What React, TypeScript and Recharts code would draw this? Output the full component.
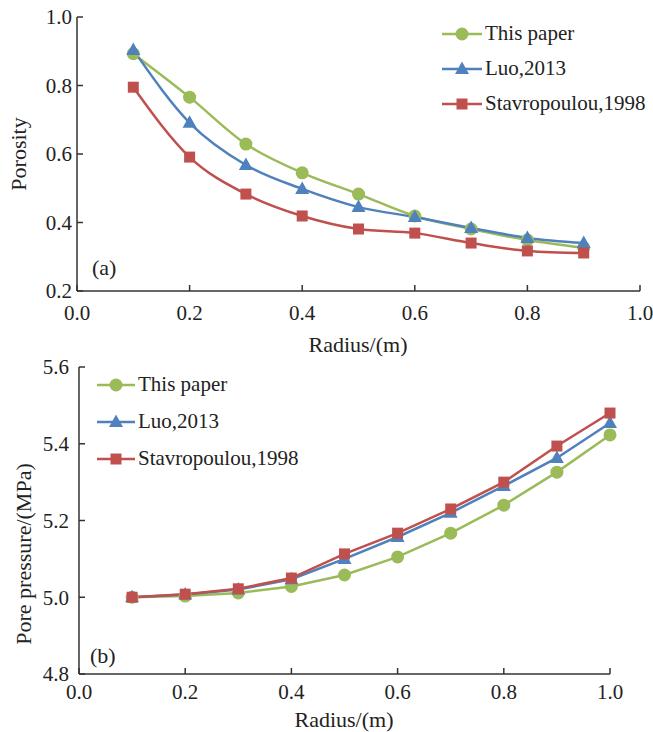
import { LineChart, Line, XAxis, YAxis } from "recharts";

// (a) porosity vs radius
const radiusA = [0.1, 0.2, 0.3, 0.4, 0.5, 0.6, 0.7, 0.8, 0.9];
const porosityThisPaper = [0.893, 0.766, 0.629, 0.545, 0.483, 0.419, 0.381, 0.349, 0.326];
const porosityLuo = [0.904, 0.691, 0.568, 0.498, 0.445, 0.416, 0.384, 0.355, 0.34];
const porosityStav = [0.795, 0.591, 0.483, 0.419, 0.381, 0.369, 0.34, 0.317, 0.311];

// (b) pore pressure vs radius
const radiusB = [0.1, 0.2, 0.3, 0.4, 0.5, 0.6, 0.7, 0.8, 0.9, 1.0];
const pressureThisPaper = [5.0, 5.003, 5.011, 5.028, 5.058, 5.105, 5.167, 5.24, 5.326, 5.423];
const pressureLuo = [5.0, 5.007, 5.02, 5.047, 5.1, 5.157, 5.22, 5.29, 5.363, 5.454];
const pressureStav = [5.0, 5.008, 5.022, 5.05, 5.113, 5.167, 5.23, 5.3, 5.394, 5.48];

const xTicks = [0, 0.2, 0.4, 0.6, 0.8, 1.0];
const porosityTicks = [0.2, 0.4, 0.6, 0.8, 1.0];
const pressureTicks = [4.8, 5.0, 5.2, 5.4, 5.6];

const seriesNames = ["This paper", "Luo,2013", "Stavropoulou,1998"];

const GREEN = "#9bbb59";
const BLUE = "#4f81bd";
const RED = "#c0504d";
const AXIS = "#333";
const INK = "#222";
const FONT = "Liberation Serif, Times New Roman, serif";

const dataA = radiusA.map((r, i) => ({
  r,
  a: porosityThisPaper[i],
  b: porosityLuo[i],
  c: porosityStav[i],
}));

const dataB = radiusB.map((r, i) => ({
  r,
  a: pressureThisPaper[i],
  b: pressureLuo[i],
  c: pressureStav[i],
}));

type Shape = "circle" | "triangle" | "square";

function Marker({ shape, cx, cy, color }: { shape: Shape; cx: number; cy: number; color: string }) {
  if (shape === "circle") return <circle cx={cx} cy={cy} r={6.5} fill={color} />;
  if (shape === "triangle")
    return <polygon points={`${cx},${cy - 7.5} ${cx + 7},${cy + 5} ${cx - 7},${cy + 5}`} fill={color} />;
  return <rect x={cx - 5.5} y={cy - 5.5} width={11} height={11} fill={color} />;
}

const dot = (shape: Shape, color: string) => (p: any) =>
  <Marker key={`${shape}-${p.index}`} shape={shape} cx={p.cx} cy={p.cy} color={color} />;

const legendItems: { shape: Shape; color: string }[] = [
  { shape: "circle", color: GREEN },
  { shape: "triangle", color: BLUE },
  { shape: "square", color: RED },
];

function LegendBox({ left, top, gap, lineW }: { left: number; top: number; gap: number; lineW: number }) {
  return (
    <div style={{ position: "absolute", left, top, fontFamily: FONT, fontSize: 21, color: INK }}>
      {legendItems.map((it, i) => (
        <div key={i} style={{ display: "flex", alignItems: "center", height: gap }}>
          <svg width={lineW} height={20} style={{ marginRight: 3 }}>
            <line x1={0} y1={10} x2={lineW} y2={10} stroke={it.color} strokeWidth={2.5} />
            <Marker shape={it.shape} cx={lineW / 2} cy={10} color={it.color} />
          </svg>
          <span>{seriesNames[i]}</span>
        </div>
      ))}
    </div>
  );
}

const XTick = (p: any) => (
  <text x={p.x} y={p.y} dy="0.71em" textAnchor="middle" fontFamily={FONT} fontSize={21} fill={INK}>
    {Number(p.payload.value).toFixed(1)}
  </text>
);

const YTick = (p: any) => (
  <text x={p.x} y={p.y} dy="0.35em" textAnchor="end" fontFamily={FONT} fontSize={21} fill={INK}>
    {Number(p.payload.value).toFixed(1)}
  </text>
);

function YTitle({ text, x, y }: { text: string; x: number; y: number }) {
  return (
    <text
      x={x}
      y={y}
      transform={`rotate(-90, ${x}, ${y})`}
      textAnchor="middle"
      dominantBaseline="central"
      fontFamily={FONT}
      fontSize={22}
      fill={INK}
    >
      {text}
    </text>
  );
}

function XTitle({ x, y }: { x: number; y: number }) {
  return (
    <text x={x} y={y} textAnchor="middle" fontFamily={FONT} fontSize={22} fill={INK}>
      Radius/(m)
    </text>
  );
}

export default function App() {
  return (
    <div style={{ position: "absolute", left: 0, top: 0, width: 653, height: 732, background: "#fff", fontFamily: FONT }}>
      <div style={{ position: "absolute", left: 0, top: 0 }}>
        <LineChart width={653} height={360} data={dataA} margin={{ top: 17, right: 13, left: 0, bottom: 0 }}>
          <XAxis
            dataKey="r"
            type="number"
            domain={[0, 1]}
            ticks={xTicks}
            height={69}
            stroke={AXIS}
            strokeWidth={1.5}
            tickSize={-6}
            tickMargin={20}
            tick={XTick}
            label={{ content: () => <XTitle x={358} y={352} /> }}
          />
          <YAxis
            type="number"
            domain={[0.2, 1.0]}
            ticks={porosityTicks}
            width={77}
            stroke={AXIS}
            strokeWidth={1.5}
            tickSize={-6}
            tickMargin={11}
            tick={YTick}
            label={{ content: () => <YTitle text="Porosity" x={18} y={154} /> }}
          />
          <Line type="monotone" dataKey="a" stroke={GREEN} strokeWidth={2.5} dot={dot("circle", GREEN)} isAnimationActive={false} />
          <Line type="monotone" dataKey="b" stroke={BLUE} strokeWidth={2.5} dot={dot("triangle", BLUE)} isAnimationActive={false} />
          <Line type="monotone" dataKey="c" stroke={RED} strokeWidth={2.5} dot={dot("square", RED)} isAnimationActive={false} />
        </LineChart>
        <LegendBox left={442} top={16} gap={35} lineW={40} />
        <div style={{ position: "absolute", left: 92, top: 255, fontFamily: FONT, fontSize: 22, color: INK }}>(a)</div>
      </div>
      <div style={{ position: "absolute", left: 0, top: 345 }}>
        <LineChart width={653} height={387} data={dataB} margin={{ top: 22, right: 43, left: 0, bottom: 0 }}>
          <XAxis
            dataKey="r"
            type="number"
            domain={[0, 1]}
            ticks={xTicks}
            height={58}
            stroke={AXIS}
            strokeWidth={1.5}
            tickSize={-6}
            tickMargin={16}
            tick={XTick}
            label={{ content: () => <XTitle x={344} y={382} /> }}
          />
          <YAxis
            type="number"
            domain={[4.8, 5.6]}
            ticks={pressureTicks}
            width={79}
            stroke={AXIS}
            strokeWidth={1.5}
            tickSize={-6}
            tickMargin={16}
            tick={YTick}
            label={{ content: () => <YTitle text="Pore pressure/(MPa)" x={23} y={209} /> }}
          />
          <Line type="linear" dataKey="a" stroke={GREEN} strokeWidth={2.5} dot={dot("circle", GREEN)} isAnimationActive={false} />
          <Line type="linear" dataKey="b" stroke={BLUE} strokeWidth={2.5} dot={dot("triangle", BLUE)} isAnimationActive={false} />
          <Line type="linear" dataKey="c" stroke={RED} strokeWidth={2.5} dot={dot("square", RED)} isAnimationActive={false} />
        </LineChart>
        <LegendBox left={97} top={21} gap={37} lineW={38} />
        <div style={{ position: "absolute", left: 90, top: 298, fontFamily: FONT, fontSize: 22, color: INK }}>(b)</div>
      </div>
    </div>
  );
}
